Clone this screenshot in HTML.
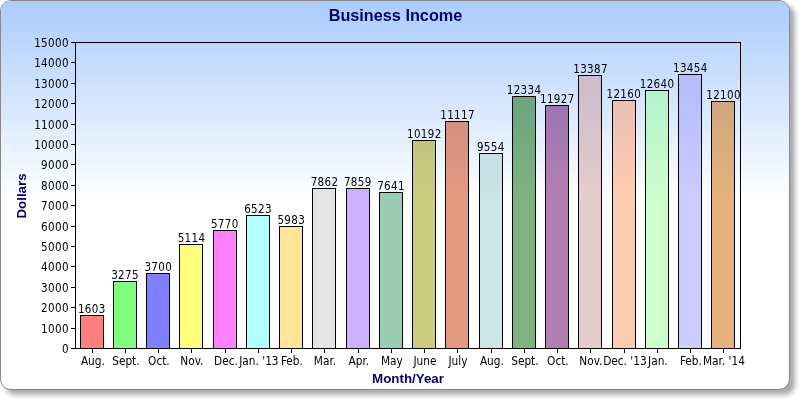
<!DOCTYPE html>
<html><head><meta charset="utf-8"><title>Business Income</title>
<style>
html,body{margin:0;padding:0;background:#fff;}
body{width:800px;height:400px;overflow:hidden;position:relative;}
#frame{position:absolute;left:0;top:0;width:788px;height:388px;border:1px solid #888;border-radius:11px;
background:#fff;box-shadow:5px 5px 5px #aaa;overflow:hidden;}
#grad{position:absolute;left:0;top:0;}
#chart{position:absolute;left:0;top:0;will-change:transform;}
text{font-family:"DejaVu Sans Condensed","DejaVu Sans","Liberation Sans",sans-serif;font-size:11.5px;fill:#000;letter-spacing:0.35px;}
text.v,text.xl{text-anchor:middle;}
text.yl{text-anchor:end;}
text.xl{font-size:11.75px;letter-spacing:0px;}
text.t{font-family:"Liberation Sans",Arial,sans-serif;font-weight:bold;fill:#000066;letter-spacing:0;}
</style></head>
<body>
<div id="frame"><svg id="grad" width="788" height="200" shape-rendering="crispEdges">
<rect x="0" y="-1" width="790" height="2" fill="#aaccff"/>
<rect x="0" y="1" width="790" height="2" fill="#abcdff"/>
<rect x="0" y="3" width="790" height="2" fill="#accdff"/>
<rect x="0" y="5" width="790" height="3" fill="#adceff"/>
<rect x="0" y="8" width="790" height="1" fill="#aeceff"/>
<rect x="0" y="9" width="790" height="1" fill="#aecfff"/>
<rect x="0" y="10" width="790" height="2" fill="#afcfff"/>
<rect x="0" y="12" width="790" height="1" fill="#b0cfff"/>
<rect x="0" y="13" width="790" height="2" fill="#b0d0ff"/>
<rect x="0" y="15" width="790" height="2" fill="#b1d0ff"/>
<rect x="0" y="17" width="790" height="3" fill="#b2d1ff"/>
<rect x="0" y="20" width="790" height="1" fill="#b3d1ff"/>
<rect x="0" y="21" width="790" height="1" fill="#b3d2ff"/>
<rect x="0" y="22" width="790" height="2" fill="#b4d2ff"/>
<rect x="0" y="24" width="790" height="1" fill="#b5d2ff"/>
<rect x="0" y="25" width="790" height="2" fill="#b5d3ff"/>
<rect x="0" y="27" width="790" height="2" fill="#b6d3ff"/>
<rect x="0" y="29" width="790" height="2" fill="#b7d4ff"/>
<rect x="0" y="31" width="790" height="2" fill="#b8d4ff"/>
<rect x="0" y="33" width="790" height="1" fill="#b8d5ff"/>
<rect x="0" y="34" width="790" height="2" fill="#b9d5ff"/>
<rect x="0" y="36" width="790" height="1" fill="#bad5ff"/>
<rect x="0" y="37" width="790" height="1" fill="#bad6ff"/>
<rect x="0" y="38" width="790" height="3" fill="#bbd6ff"/>
<rect x="0" y="41" width="790" height="2" fill="#bcd7ff"/>
<rect x="0" y="43" width="790" height="2" fill="#bdd7ff"/>
<rect x="0" y="45" width="790" height="3" fill="#bed8ff"/>
<rect x="0" y="48" width="790" height="1" fill="#bfd8ff"/>
<rect x="0" y="49" width="790" height="1" fill="#bfd9ff"/>
<rect x="0" y="50" width="790" height="2" fill="#c0d9ff"/>
<rect x="0" y="52" width="790" height="3" fill="#c1daff"/>
<rect x="0" y="55" width="790" height="1" fill="#c2daff"/>
<rect x="0" y="56" width="790" height="1" fill="#c2dbff"/>
<rect x="0" y="57" width="790" height="2" fill="#c3dbff"/>
<rect x="0" y="59" width="790" height="1" fill="#c4dbff"/>
<rect x="0" y="60" width="790" height="2" fill="#c4dcff"/>
<rect x="0" y="62" width="790" height="2" fill="#c5dcff"/>
<rect x="0" y="64" width="790" height="3" fill="#c6ddff"/>
<rect x="0" y="67" width="790" height="1" fill="#c7ddff"/>
<rect x="0" y="68" width="790" height="1" fill="#c7deff"/>
<rect x="0" y="69" width="790" height="2" fill="#c8deff"/>
<rect x="0" y="71" width="790" height="1" fill="#c9deff"/>
<rect x="0" y="72" width="790" height="2" fill="#c9dfff"/>
<rect x="0" y="74" width="790" height="2" fill="#cadfff"/>
<rect x="0" y="76" width="790" height="2" fill="#cbe0ff"/>
<rect x="0" y="78" width="790" height="2" fill="#cce0ff"/>
<rect x="0" y="80" width="790" height="1" fill="#cce1ff"/>
<rect x="0" y="81" width="790" height="2" fill="#cde1ff"/>
<rect x="0" y="83" width="790" height="1" fill="#cee1ff"/>
<rect x="0" y="84" width="790" height="1" fill="#cee2ff"/>
<rect x="0" y="85" width="790" height="3" fill="#cfe2ff"/>
<rect x="0" y="88" width="790" height="2" fill="#d0e3ff"/>
<rect x="0" y="90" width="790" height="2" fill="#d1e3ff"/>
<rect x="0" y="92" width="790" height="3" fill="#d2e4ff"/>
<rect x="0" y="95" width="790" height="1" fill="#d3e4ff"/>
<rect x="0" y="96" width="790" height="1" fill="#d3e5ff"/>
<rect x="0" y="97" width="790" height="2" fill="#d4e5ff"/>
<rect x="0" y="99" width="790" height="1" fill="#d4e6ff"/>
<rect x="0" y="100" width="790" height="2" fill="#d5e6ff"/>
<rect x="0" y="102" width="790" height="1" fill="#d6e6ff"/>
<rect x="0" y="103" width="790" height="1" fill="#d6e7ff"/>
<rect x="0" y="104" width="790" height="3" fill="#d7e7ff"/>
<rect x="0" y="107" width="790" height="2" fill="#d8e8ff"/>
<rect x="0" y="109" width="790" height="2" fill="#d9e8ff"/>
<rect x="0" y="111" width="790" height="3" fill="#dae9ff"/>
<rect x="0" y="114" width="790" height="1" fill="#dbe9ff"/>
<rect x="0" y="115" width="790" height="1" fill="#dbeaff"/>
<rect x="0" y="116" width="790" height="2" fill="#dceaff"/>
<rect x="0" y="118" width="790" height="1" fill="#ddeaff"/>
<rect x="0" y="119" width="790" height="2" fill="#ddebff"/>
<rect x="0" y="121" width="790" height="2" fill="#deebff"/>
<rect x="0" y="123" width="790" height="2" fill="#dfecff"/>
<rect x="0" y="125" width="790" height="2" fill="#e0ecff"/>
<rect x="0" y="127" width="790" height="1" fill="#e0edff"/>
<rect x="0" y="128" width="790" height="2" fill="#e1edff"/>
<rect x="0" y="130" width="790" height="1" fill="#e2edff"/>
<rect x="0" y="131" width="790" height="1" fill="#e2eeff"/>
<rect x="0" y="132" width="790" height="3" fill="#e3eeff"/>
<rect x="0" y="135" width="790" height="2" fill="#e4efff"/>
<rect x="0" y="137" width="790" height="2" fill="#e5efff"/>
<rect x="0" y="139" width="790" height="3" fill="#e6f0ff"/>
<rect x="0" y="142" width="790" height="1" fill="#e7f0ff"/>
<rect x="0" y="143" width="790" height="1" fill="#e7f1ff"/>
<rect x="0" y="144" width="790" height="3" fill="#e8f1ff"/>
<rect x="0" y="147" width="790" height="2" fill="#e9f2ff"/>
<rect x="0" y="149" width="790" height="1" fill="#eaf2ff"/>
<rect x="0" y="150" width="790" height="1" fill="#eaf3ff"/>
<rect x="0" y="151" width="790" height="3" fill="#ebf3ff"/>
<rect x="0" y="154" width="790" height="2" fill="#ecf4ff"/>
<rect x="0" y="156" width="790" height="2" fill="#edf4ff"/>
<rect x="0" y="158" width="790" height="3" fill="#eef5ff"/>
<rect x="0" y="161" width="790" height="1" fill="#eff5ff"/>
<rect x="0" y="162" width="790" height="1" fill="#eff6ff"/>
<rect x="0" y="163" width="790" height="2" fill="#f0f6ff"/>
<rect x="0" y="165" width="790" height="1" fill="#f1f6ff"/>
<rect x="0" y="166" width="790" height="2" fill="#f1f7ff"/>
<rect x="0" y="168" width="790" height="2" fill="#f2f7ff"/>
<rect x="0" y="170" width="790" height="2" fill="#f3f8ff"/>
<rect x="0" y="172" width="790" height="2" fill="#f4f8ff"/>
<rect x="0" y="174" width="790" height="1" fill="#f4f9ff"/>
<rect x="0" y="175" width="790" height="2" fill="#f5f9ff"/>
<rect x="0" y="177" width="790" height="1" fill="#f6f9ff"/>
<rect x="0" y="178" width="790" height="2" fill="#f6faff"/>
<rect x="0" y="180" width="790" height="2" fill="#f7faff"/>
<rect x="0" y="182" width="790" height="2" fill="#f8fbff"/>
<rect x="0" y="184" width="790" height="2" fill="#f9fbff"/>
<rect x="0" y="186" width="790" height="1" fill="#f9fcff"/>
<rect x="0" y="187" width="790" height="2" fill="#fafcff"/>
<rect x="0" y="189" width="790" height="1" fill="#fbfcff"/>
<rect x="0" y="190" width="790" height="1" fill="#fbfdff"/>
<rect x="0" y="191" width="790" height="3" fill="#fcfdff"/>
<rect x="0" y="194" width="790" height="2" fill="#fdfeff"/>
<rect x="0" y="196" width="790" height="2" fill="#fefeff"/>
</svg></div>
<svg id="chart" width="800" height="400" viewBox="0 0 800 400" shape-rendering="crispEdges">
<text class="t" x="395.5" y="21" style="font-size:16.25px;text-anchor:middle">Business Income</text>
<text class="t" x="408" y="383" style="font-size:13.33px;text-anchor:middle">Month/Year</text>
<text class="t" transform="translate(26,196) rotate(-90)" style="font-size:13.33px;text-anchor:middle">Dollars</text>
<rect x="80.5" y="315.5" width="23" height="33" fill="#ff0000" fill-opacity="0.5" stroke="#000" stroke-width="1"/>
<rect x="113.5" y="281.5" width="23" height="67" fill="#00ff00" fill-opacity="0.5" stroke="#000" stroke-width="1"/>
<rect x="146.5" y="273.5" width="23" height="75" fill="#0000ff" fill-opacity="0.5" stroke="#000" stroke-width="1"/>
<rect x="179.5" y="244.5" width="23" height="104" fill="#ffff00" fill-opacity="0.5" stroke="#000" stroke-width="1"/>
<rect x="213.5" y="230.5" width="23" height="118" fill="#ff00ff" fill-opacity="0.5" stroke="#000" stroke-width="1"/>
<rect x="246.5" y="215.5" width="23" height="133" fill="#66ffff" fill-opacity="0.5" stroke="#000" stroke-width="1"/>
<rect x="279.5" y="226.5" width="23" height="122" fill="#ffcc33" fill-opacity="0.5" stroke="#000" stroke-width="1"/>
<rect x="312.5" y="188.5" width="23" height="160" fill="#cccccc" fill-opacity="0.5" stroke="#000" stroke-width="1"/>
<rect x="346.5" y="188.5" width="23" height="160" fill="#9966ff" fill-opacity="0.5" stroke="#000" stroke-width="1"/>
<rect x="379.5" y="192.5" width="23" height="156" fill="#339966" fill-opacity="0.5" stroke="#000" stroke-width="1"/>
<rect x="412.5" y="140.5" width="23" height="208" fill="#999900" fill-opacity="0.5" stroke="#000" stroke-width="1"/>
<rect x="445.5" y="121.5" width="23" height="227" fill="#cc3300" fill-opacity="0.5" stroke="#000" stroke-width="1"/>
<rect x="479.5" y="153.5" width="23" height="195" fill="#99cccc" fill-opacity="0.5" stroke="#000" stroke-width="1"/>
<rect x="512.5" y="96.5" width="23" height="252" fill="#006600" fill-opacity="0.5" stroke="#000" stroke-width="1"/>
<rect x="545.5" y="105.5" width="23" height="243" fill="#660066" fill-opacity="0.5" stroke="#000" stroke-width="1"/>
<rect x="578.5" y="75.5" width="23" height="273" fill="#cc9999" fill-opacity="0.5" stroke="#000" stroke-width="1"/>
<rect x="612.5" y="100.5" width="23" height="248" fill="#ff9966" fill-opacity="0.5" stroke="#000" stroke-width="1"/>
<rect x="645.5" y="90.5" width="23" height="258" fill="#99ff99" fill-opacity="0.5" stroke="#000" stroke-width="1"/>
<rect x="678.5" y="74.5" width="23" height="274" fill="#9999ff" fill-opacity="0.5" stroke="#000" stroke-width="1"/>
<rect x="711.5" y="101.5" width="23" height="247" fill="#cc6600" fill-opacity="0.5" stroke="#000" stroke-width="1"/>
<text x="91.80" y="313" class="v">1603</text>
<text x="125.05" y="279" class="v">3275</text>
<text x="158.30" y="271" class="v">3700</text>
<text x="191.55" y="242" class="v">5114</text>
<text x="224.80" y="228" class="v">5770</text>
<text x="258.05" y="213" class="v">6523</text>
<text x="291.30" y="224" class="v">5983</text>
<text x="324.55" y="186" class="v">7862</text>
<text x="357.80" y="186" class="v">7859</text>
<text x="391.05" y="190" class="v">7641</text>
<text x="424.30" y="138" class="v">10192</text>
<text x="457.55" y="119" class="v">11117</text>
<text x="490.80" y="151" class="v">9554</text>
<text x="524.05" y="94" class="v">12334</text>
<text x="557.30" y="103" class="v">11927</text>
<text x="590.55" y="73" class="v">13387</text>
<text x="623.80" y="98" class="v">12160</text>
<text x="657.05" y="88" class="v">12640</text>
<text x="690.30" y="72" class="v">13454</text>
<text x="723.55" y="99" class="v">12100</text>
<line x1="71" y1="348.5" x2="75" y2="348.5" stroke="#000"/>
<text x="68.85" y="352.80" class="yl">0</text>
<line x1="71" y1="328.5" x2="75" y2="328.5" stroke="#000"/>
<text x="68.85" y="332.80" class="yl">1000</text>
<line x1="71" y1="307.5" x2="75" y2="307.5" stroke="#000"/>
<text x="68.85" y="311.80" class="yl">2000</text>
<line x1="71" y1="287.5" x2="75" y2="287.5" stroke="#000"/>
<text x="68.85" y="291.80" class="yl">3000</text>
<line x1="71" y1="266.5" x2="75" y2="266.5" stroke="#000"/>
<text x="68.85" y="270.80" class="yl">4000</text>
<line x1="71" y1="246.5" x2="75" y2="246.5" stroke="#000"/>
<text x="68.85" y="250.80" class="yl">5000</text>
<line x1="71" y1="226.5" x2="75" y2="226.5" stroke="#000"/>
<text x="68.85" y="230.80" class="yl">6000</text>
<line x1="71" y1="205.5" x2="75" y2="205.5" stroke="#000"/>
<text x="68.85" y="209.80" class="yl">7000</text>
<line x1="71" y1="185.5" x2="75" y2="185.5" stroke="#000"/>
<text x="68.85" y="189.80" class="yl">8000</text>
<line x1="71" y1="164.5" x2="75" y2="164.5" stroke="#000"/>
<text x="68.85" y="168.80" class="yl">9000</text>
<line x1="71" y1="144.5" x2="75" y2="144.5" stroke="#000"/>
<text x="68.85" y="148.80" class="yl">10000</text>
<line x1="71" y1="124.5" x2="75" y2="124.5" stroke="#000"/>
<text x="68.85" y="128.80" class="yl">11000</text>
<line x1="71" y1="103.5" x2="75" y2="103.5" stroke="#000"/>
<text x="68.85" y="107.80" class="yl">12000</text>
<line x1="71" y1="83.5" x2="75" y2="83.5" stroke="#000"/>
<text x="68.85" y="87.80" class="yl">13000</text>
<line x1="71" y1="62.5" x2="75" y2="62.5" stroke="#000"/>
<text x="68.85" y="66.80" class="yl">14000</text>
<line x1="71" y1="42.5" x2="75" y2="42.5" stroke="#000"/>
<text x="68.85" y="46.80" class="yl">15000</text>
<line x1="92.5" y1="348" x2="92.5" y2="353" stroke="#000"/>
<text x="92.90" y="365" class="xl">Aug.</text>
<line x1="125.5" y1="348" x2="125.5" y2="353" stroke="#000"/>
<text x="125.90" y="365" class="xl">Sept.</text>
<line x1="158.5" y1="348" x2="158.5" y2="353" stroke="#000"/>
<text x="158.90" y="365" class="xl">Oct.</text>
<line x1="191.5" y1="348" x2="191.5" y2="353" stroke="#000"/>
<text x="191.90" y="365" class="xl">Nov.</text>
<line x1="225.5" y1="348" x2="225.5" y2="353" stroke="#000"/>
<text x="225.90" y="365" class="xl">Dec.</text>
<line x1="258.5" y1="348" x2="258.5" y2="353" stroke="#000"/>
<text x="258.90" y="365" class="xl">Jan. &#39;13</text>
<line x1="291.5" y1="348" x2="291.5" y2="353" stroke="#000"/>
<text x="291.90" y="365" class="xl">Feb.</text>
<line x1="324.5" y1="348" x2="324.5" y2="353" stroke="#000"/>
<text x="324.90" y="365" class="xl">Mar.</text>
<line x1="358.5" y1="348" x2="358.5" y2="353" stroke="#000"/>
<text x="358.90" y="365" class="xl">Apr.</text>
<line x1="391.5" y1="348" x2="391.5" y2="353" stroke="#000"/>
<text x="391.90" y="365" class="xl">May</text>
<line x1="424.5" y1="348" x2="424.5" y2="353" stroke="#000"/>
<text x="424.90" y="365" class="xl">June</text>
<line x1="457.5" y1="348" x2="457.5" y2="353" stroke="#000"/>
<text x="457.90" y="365" class="xl">July</text>
<line x1="491.5" y1="348" x2="491.5" y2="353" stroke="#000"/>
<text x="491.90" y="365" class="xl">Aug.</text>
<line x1="524.5" y1="348" x2="524.5" y2="353" stroke="#000"/>
<text x="524.90" y="365" class="xl">Sept.</text>
<line x1="557.5" y1="348" x2="557.5" y2="353" stroke="#000"/>
<text x="557.90" y="365" class="xl">Oct.</text>
<line x1="590.5" y1="348" x2="590.5" y2="353" stroke="#000"/>
<text x="590.90" y="365" class="xl">Nov.</text>
<line x1="624.5" y1="348" x2="624.5" y2="353" stroke="#000"/>
<text x="624.90" y="365" class="xl">Dec. &#39;13</text>
<line x1="657.5" y1="348" x2="657.5" y2="353" stroke="#000"/>
<text x="657.90" y="365" class="xl">Jan.</text>
<line x1="690.5" y1="348" x2="690.5" y2="353" stroke="#000"/>
<text x="690.90" y="365" class="xl">Feb.</text>
<line x1="723.5" y1="348" x2="723.5" y2="353" stroke="#000"/>
<text x="723.90" y="365" class="xl">Mar. &#39;14</text>
<rect x="75.5" y="42.5" width="665" height="306" fill="none" stroke="#000"/>
</svg>
</body></html>
